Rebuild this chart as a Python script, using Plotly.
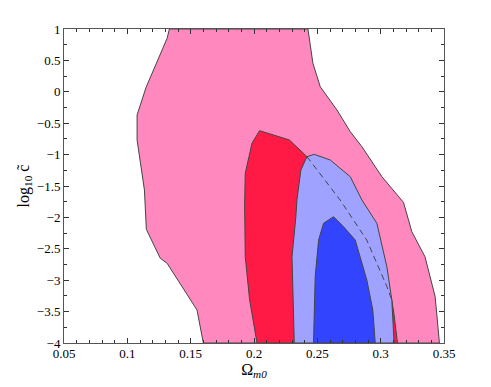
import plotly.graph_objects as go

# outer (light pink) region
pink_x = [0.1332, 0.1314, 0.1148, 0.1077, 0.1077, 0.1135, 0.115, 0.126, 0.1314, 0.155, 0.160,
          0.3464, 0.343, 0.335, 0.3246, 0.318, 0.301, 0.2852, 0.276, 0.2655, 0.2523, 0.2465, 0.2426]
pink_y = [1, 0.852, 0.072, -0.369, -0.767, -1.564, -2.19, -2.651, -2.731, -3.475, -4,
          -4, -3.26, -2.627, -2.228, -1.76, -1.352, -0.874, -0.635, -0.29, 0.081, 0.454, 1]

# red region
red_x = [0.2044, 0.1984, 0.1931, 0.1926, 0.1931, 0.1965, 0.2024,
         0.3133, 0.3106, 0.3088, 0.3049, 0.289, 0.268, 0.2418, 0.228]
red_y = [-0.619, -0.82, -1.298, -1.8, -2.627, -3.31, -4,
         -4, -3.55, -3.315, -3.10, -2.36, -1.723, -1.033, -0.767]

# light blue region
lblue_x = [0.2475, 0.2418, 0.237, 0.2339, 0.233, 0.23, 0.2318,
           0.3106, 0.3088, 0.3049, 0.297, 0.2852, 0.276, 0.2602]
lblue_y = [-0.996, -1.033, -1.245, -1.723, -2.0, -2.627, -4,
           -4, -3.315, -2.786, -2.094, -1.723, -1.352, -1.086]

# dark blue region
blue_x = [0.2628, 0.2549, 0.251, 0.2483, 0.247, 0.2957, 0.2938, 0.2891, 0.2799, 0.2707]
blue_y = [-1.989, -2.094, -2.36, -2.944, -4, -4, -3.475, -3.0, -2.36, -2.148]

# dashed boundary of the red region hidden behind the blue one
dash_x = [0.2418, 0.268, 0.289, 0.3049, 0.3088]
dash_y = [-1.033, -1.723, -2.36, -3.10, -3.315]

x_ticks = [0.05, 0.1, 0.15, 0.2, 0.25, 0.3, 0.35]
x_labels = ["0.05", "0.1", "0.15", "0.2", "0.25", "0.3", "0.35"]
y_ticks = [-4, -3.5, -3, -2.5, -2, -1.5, -1, -0.5, 0, 0.5, 1]
y_labels = ["\u22124", "\u22123.5", "\u22123", "\u22122.5", "\u22122", "\u22121.5",
            "\u22121", "\u22120.5", "0", "0.5", "1"]

fig = go.Figure()

for xs, ys, col in [(pink_x, pink_y, "#ff88bf"),
                    (red_x, red_y, "#ff1a45"),
                    (lblue_x, lblue_y, "#a0a2ff"),
                    (blue_x, blue_y, "#3344ff")]:
    fig.add_trace(go.Scatter(
        x=xs + xs[:1], y=ys + ys[:1],
        mode="lines", fill="toself", fillcolor=col,
        line=dict(color="#444444", width=1),
        hoverinfo="skip", showlegend=False))

fig.add_trace(go.Scatter(
    x=dash_x, y=dash_y, mode="lines",
    line=dict(color="#444444", width=1, dash="6px,4px"),
    hoverinfo="skip", showlegend=False))

axis_common = dict(
    showgrid=False, zeroline=False, automargin=False,
    showline=True, linecolor="#555555", linewidth=1, mirror="ticks",
    ticks="inside", ticklen=5, tickcolor="#333333", tickwidth=1,
    tickfont=dict(family="Liberation Serif", size=13, color="black"),
)

fig.update_xaxes(range=[0.05, 0.35], tickvals=x_ticks, ticktext=x_labels,
                 minor=dict(dtick=0.01, tick0=0.05, ticks="inside", ticklen=3, tickcolor="#333333"),
                 ticklabelstandoff=-2,
                 title=dict(text="\u03a9<sub><i>m0</i></sub>", standoff=0,
                            font=dict(family="Liberation Serif", size=16, color="black")),
                 **axis_common)
fig.update_yaxes(range=[-4, 1], tickvals=y_ticks, ticktext=y_labels,
                 minor=dict(dtick=0.25, tick0=-4, ticks="inside", ticklen=3, tickcolor="#333333"),
                 title=dict(text="log<sub>10</sub> c\u0303", standoff=3,
                            font=dict(family="Liberation Serif", size=16, color="black")),
                 **axis_common)

fig.update_layout(
    width=491, height=387,
    margin=dict(l=64, r=47, t=29, b=44),
    paper_bgcolor="white", plot_bgcolor="white",
    font=dict(family="Liberation Serif", color="black"),
)

fig.write_html("out.html", config={"displayModeBar": False},
               post_script="document.body.style.margin='0';")
